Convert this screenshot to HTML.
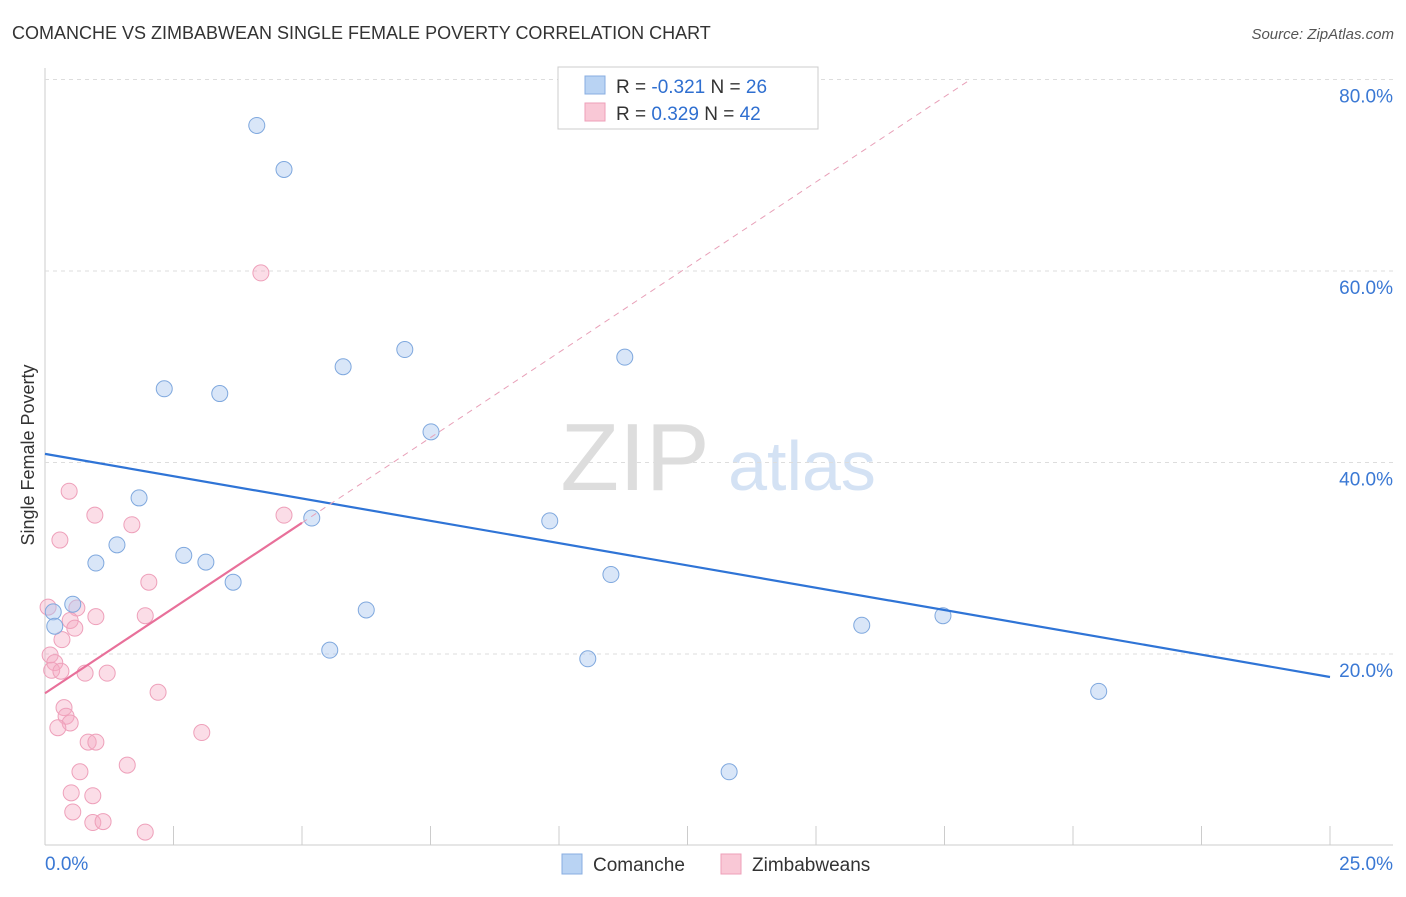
<!DOCTYPE html>
<html><head><meta charset="utf-8"><style>
body{margin:0;background:#fff;font-family:"Liberation Sans",sans-serif}
svg text{font-family:"Liberation Sans",sans-serif}
</style></head><body>
<svg id="chart" width="1406" height="892" xmlns="http://www.w3.org/2000/svg">
<text x="12" y="39" font-size="18" fill="#333">COMANCHE VS ZIMBABWEAN SINGLE FEMALE POVERTY CORRELATION CHART</text>
<text x="1394" y="39" font-size="15" fill="#555" text-anchor="end" font-style="italic">Source: ZipAtlas.com</text>
<text transform="translate(34,455) rotate(-90)" font-size="18" fill="#333" text-anchor="middle">Single Female Poverty</text>
<g><text x="635" y="490" font-size="96" fill="#ddd" text-anchor="middle" font-family="Liberation Serif">ZIP</text><text x="802" y="490" font-size="70" fill="#d4e2f4" text-anchor="middle">atlas</text></g>
<g id="grid"></g><g id="marks"></g>
<g>
<rect x="558" y="67" width="260" height="62" fill="#fff" stroke="#ccc"/>
<rect x="585" y="76" width="20" height="18" fill="#b9d3f3" stroke="#88aee0"/>
<rect x="585" y="103" width="20" height="18" fill="#f9c8d6" stroke="#ee9fb8"/>
<text x="616" y="93" font-size="19" fill="#333">R = <tspan fill="#2f6fd0">-0.321</tspan>   N = <tspan fill="#2f6fd0">26</tspan></text>
<text x="616" y="120" font-size="19" fill="#333">R = <tspan fill="#2f6fd0"> 0.329</tspan>   N = <tspan fill="#2f6fd0">42</tspan></text>
</g>
<g>
<rect x="562" y="854" width="20" height="20" fill="#b9d3f3" stroke="#88aee0"/>
<text x="593" y="871" font-size="19" fill="#333">Comanche</text>
<rect x="721" y="854" width="20" height="20" fill="#f9c8d6" stroke="#ee9fb8"/>
<text x="752" y="871" font-size="19" fill="#333">Zimbabweans</text>
</g>
</svg>
<script>
const blueX=[4.12,4.65,2.32,3.40,5.80,7.00,11.28,7.51,1.83,5.19,9.82,1.40,0.99,2.70,3.13,3.66,11.01,0.54,0.16,0.19,6.25,5.54,10.56,15.89,17.47,20.5,13.31];
const blueY=[75.2,70.6,47.7,47.2,50.0,51.8,51.0,43.2,36.3,34.2,33.9,31.4,29.5,30.3,29.6,27.5,28.3,25.2,24.4,22.9,24.6,20.4,19.5,23.0,24.0,16.1,7.7];
const pinkX=[4.20,0.47,0.97,1.69,4.65,0.29,2.02,1.95,0.99,0.62,0.06,0.49,0.58,0.33,0.10,0.19,0.13,0.31,0.78,1.21,2.2,0.37,0.41,0.49,0.25,3.05,0.84,0.99,1.6,0.68,0.51,0.93,0.54,0.93,1.13,1.95];
const pinkY=[59.8,37.0,34.5,33.5,34.5,31.9,27.5,24.0,23.9,24.8,24.9,23.5,22.7,21.5,19.9,19.1,18.3,18.2,18.0,18.0,16.0,14.4,13.5,12.8,12.3,11.8,10.8,10.8,8.4,7.7,5.5,5.2,3.5,2.4,2.5,1.4];
const blueTrend=[40.9,17.6];
const pinkTrend=[15.9,3.56];
const yTicks=[20,40,60,80];
const xTicks=[0,2.5,5,7.5,10,12.5,15,17.5,20,22.5,25];
const X=v=>45+v*51.4, Y=v=>845.5-v*9.575;
const NS="http://www.w3.org/2000/svg";
function mk(tag,attrs,parent){const e=document.createElementNS(NS,tag);for(const k in attrs)e.setAttribute(k,attrs[k]);parent.appendChild(e);return e;}
const grid=document.getElementById('grid'),marks=document.getElementById('marks');
mk('line',{x1:45,y1:68,x2:45,y2:845,stroke:'#ccc'},grid);
mk('line',{x1:45,y1:845,x2:1393,y2:845,stroke:'#ccc'},grid);
yTicks.forEach(t=>{const l=mk('line',{x1:45,y1:Y(t),x2:1393,y2:Y(t),stroke:'#ddd','stroke-dasharray':'4,4'},grid);

const tx=mk('text',{x:1393,y:Y(t)+23,'font-size':19,fill:'#3a78d4','text-anchor':'end'},grid);tx.textContent=t.toFixed(1)+'%';
});
xTicks.forEach(t=>{const l=mk('line',{x1:X(t),y1:826,x2:X(t),y2:845,stroke:'#ccc'},grid);
});
[[0,'start'],[25,'end']].forEach(([t,a])=>{const tx=mk('text',{x:t==0?45:1393,y:870,'font-size':19,fill:'#3a78d4','text-anchor':a},grid);tx.textContent=t.toFixed(1)+'%';
});
pinkX.forEach((v,i)=>{const c=mk('circle',{cx:X(v),cy:Y(pinkY[i]),r:8,fill:'rgba(246,170,195,0.4)',stroke:'#eea0ba','stroke-width':1},marks);
});
blueX.forEach((v,i)=>{const c=mk('circle',{cx:X(v),cy:Y(blueY[i]),r:8,fill:'rgba(170,200,240,0.45)',stroke:'#7fa8de','stroke-width':1},marks);
});
let l=mk('line',{x1:X(0),y1:Y(blueTrend[0]),x2:X(25),y2:Y(blueTrend[1]),stroke:'#2f74d6','stroke-width':2.2},marks);

const pe=(80-pinkTrend[0])/pinkTrend[1];
l=mk('line',{x1:X(5),y1:Y(pinkTrend[0]+pinkTrend[1]*5),x2:X(pe),y2:Y(80),stroke:'#e8a0b8','stroke-width':1,'stroke-dasharray':'6,5'},marks);

l=mk('line',{x1:X(0),y1:Y(pinkTrend[0]),x2:X(5),y2:Y(pinkTrend[0]+pinkTrend[1]*5),stroke:'#e8709a','stroke-width':2.2},marks);

</script>
</body></html>
